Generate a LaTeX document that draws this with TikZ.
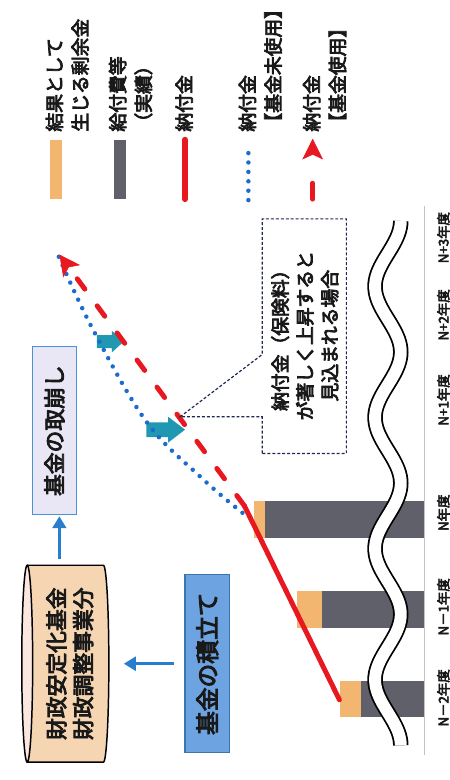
\documentclass[tikz,border=0pt]{standalone}
\usepackage{fontspec}
\newfontfamily\jp{Noto Sans CJK JP}[FakeBold=4]
\usetikzlibrary{arrows.meta,calc}
\definecolor{orangeF}{RGB}{243,182,112}
\definecolor{grayB}{RGB}{96,96,106}
\definecolor{redL}{RGB}{232,24,32}
\definecolor{blueD}{RGB}{28,108,204}
\definecolor{tealA}{RGB}{32,152,178}
\definecolor{lavF}{RGB}{233,231,245}
\definecolor{boxB}{RGB}{74,146,216}
\definecolor{midB}{RGB}{108,163,224}
\definecolor{arrB}{RGB}{40,125,205}
\definecolor{cylF}{RGB}{246,214,178}
\definecolor{cylT}{RGB}{250,232,224}
\definecolor{navyD}{RGB}{30,40,80}
\definecolor{axisG}{RGB}{195,195,195}
\definecolor{txtK}{RGB}{25,25,25}
\newcommand\fLeg{\jp\fontsize{19}{26}\selectfont}
\newcommand\fCal{\jp\fontsize{19}{25}\selectfont}
\newcommand\fCyl{\jp\fontsize{22}{27}\selectfont}
\newcommand\fKz{\jp\fontsize{22}{26}\selectfont}
\newcommand\fTm{\jp\fontsize{24}{28}\selectfont}
\newcommand\fYr{\jp\fontsize{13.5}{15}\selectfont}
\begin{document}
\begin{tikzpicture}[x=1pt,y=1pt,
  redsolid/.style={draw=redL, line width=5pt, line cap=round},
  reddash/.style={draw=redL, line width=5pt, line cap=round, dash pattern=on 13pt off 21pt},
  bluedot/.style={draw=blueD, line width=4.5pt, line cap=round, dash pattern=on 0pt off 9.5pt},
  barrow/.style={draw=arrB, line width=2.5pt, -{Triangle[length=12pt,width=14pt]}},
  redtip/.style={-{Stealth[length=21pt,width=21pt,inset=5pt,line width=0.5pt]}},
  yr/.style={font=\fYr, text=txtK, inner sep=0pt},
  leg/.style={font=\fLeg, text=txtK, align=left, anchor=west, inner sep=0pt},
  tealarrow/.style={fill=tealA}]
\begin{scope}[rotate=90, transform shape]
\fill[white] (0,0) rectangle (780,454);
% axis
\draw[axisG, line width=0.7pt] (25,25.5) -- (580,25.5);
% bars
\fill[grayB] (64,26) rectangle (100,89);
\fill[orangeF] (64,89) rectangle (100,110);
\fill[grayB] (154,26) rectangle (191,129);
\fill[orangeF] (154,129) rectangle (191,154);
\fill[grayB] (245,26) rectangle (282,186);
\fill[orangeF] (245,186) rectangle (282,197);
% break wave
\draw[black, line width=1.8pt, double=white, double distance=12pt]
  plot[domain=0:8, samples=161, smooth] ({35+66.25*\x},{62-13*cos(180*\x)});
% year labels
\node[yr] (y1) at (83,6) {N－2年度};
\node[yr] (y2) at (175,6) {N－1年度};
\node[yr] (y3) at (270,6) {N年度};
\node[yr] (y4) at (384,6) {N+1年度};
\node[yr] (y5) at (470,6) {N+2年度};
\node[yr] (y6) at (548,6) {N+3年度};
% teal arrows
\fill[tealarrow] (346.5,306) -- (346.5,284) -- (341,284) -- (354,267) -- (367,284) -- (361.5,284) -- (361.5,306) -- cycle;
\fill[tealarrow] (436.5,356) -- (436.5,341) -- (432,341) -- (443,329) -- (454,341) -- (449.5,341) -- (449.5,356) -- cycle;
% chart lines
\coordinate (p2) at (81,111);
\coordinate (p0) at (277,207);
\coordinate (tip) at (531,394);
\draw[redsolid] (p2) -- (p0);
\draw[bluedot] plot[smooth, tension=0.6] coordinates {(270,209) (305,250) (362,306) (457,361) (532,396)};
\draw[reddash, redtip] (p0) -- (tip);
% callout
\draw[navyD, line width=1.2pt, dash pattern=on 3pt off 2pt]
  (330,189) -- (367,189) -- (367,272) -- (430,189) -- (567,189) -- (567,104) -- (330,104) -- cycle;
\node[font=\fCal, text=txtK, align=center, inner sep=0pt] (co) at (449,146)
  {納付金（保険料）\\が著しく上昇すると\\見込まれる場合};
% cylinder
\fill[cylF] (18,426.5) -- (18,349.5) arc[start angle=180, end angle=360, x radius=99.5, y radius=5.5] -- (217,426.5) -- cycle;
\draw[line width=1.5pt] (18,426.5) -- (18,349.5) arc[start angle=180, end angle=360, x radius=99.5, y radius=5.5] -- (217,426.5);
\draw[line width=1.5pt, fill=cylT] (117.5,426.5) ellipse[x radius=99.5, y radius=5.5];
\node[minimum width=199pt, minimum height=88pt, inner sep=0pt] (cyl) at (117.5,388) {};
\node[font=\fCyl, text=txtK, align=center, inner sep=0pt] (cyltext) at (117.5,383.5) {財政安定化基金\\財政調整事業分};
% boxes
\node[draw=boxB, fill=lavF, line width=1.2pt, minimum width=170pt, minimum height=44pt, inner sep=0pt, font=\fKz, text=txtK] (kz) at (353,399) {基金の取崩し};
\node[draw=boxB!80!black, fill=midB, line width=1.2pt, minimum width=180pt, minimum height=45pt, inner sep=0pt, font=\fTm, text=txtK] (tm) at (117.5,244.5) {基金の積立て};
\draw[barrow] ($(tm.north)+(0,11)$) -- ($(cyl.south)+(0,-15)$);
\draw[barrow] ($(cyl.east)+(6,6)$) -- ($(kz.west)+(-1,-5)$);
% legend
\fill[orangeF] (587,391) rectangle (647,403);
\fill[grayB] (587,327) rectangle (647,339);
\draw[redsolid, line width=6pt] (587,267) -- (647,267);
\draw[bluedot] (586,203) -- (643,203);
\draw[reddash, dash pattern=on 16pt off 40pt, redtip] (587,138) -- (648,138);
\node[leg] (l1) at (655,386) {結果として\\生じる剰余金};
\node[leg] (l2) at (655,322) {給付費等\\（実績）};
\node[leg] (l3) at (655,268) {納付金};
\node[leg] (l4) at (655,191) {納付金\\【基金未使用】};
\node[leg] (l5) at (655,126) {納付金\\【基金使用】};
\end{scope}
\end{tikzpicture}
\end{document}
